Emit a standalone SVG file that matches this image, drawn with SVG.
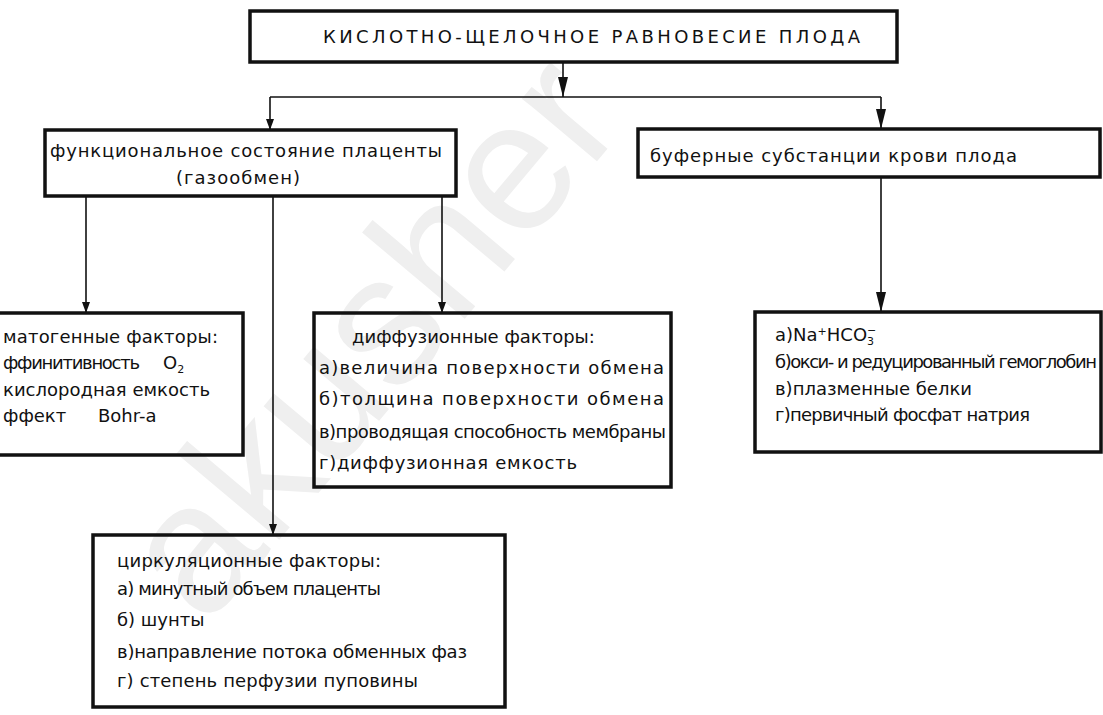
<svg xmlns="http://www.w3.org/2000/svg" width="1103" height="715" viewBox="0 0 1103 715">
  <defs>
    <style>
      .box { fill: none; stroke: #111; stroke-width: 3.5; }
      .wire { fill: none; stroke: #111; stroke-width: 1.6; }
      .t { font-family: "DejaVu Sans", "Liberation Sans", sans-serif; font-size: 18px; fill: #111; }
      .title { font-family: "DejaVu Sans", "Liberation Sans", sans-serif; font-size: 18px; fill: #111; }
      .mark { font-family: "Liberation Sans", Arial, sans-serif; font-size: 185px; fill: #efefef; }
      .sub { font-size: 11px; }
    </style>
    <marker id="headBig" markerUnits="userSpaceOnUse" markerWidth="24" markerHeight="12" refX="20" refY="5" orient="auto">
      <path d="M0,0 L20,5 L0,10 z" fill="#111"/>
    </marker>
    <marker id="headSmall" markerUnits="userSpaceOnUse" markerWidth="14" markerHeight="10" refX="11" refY="4" orient="auto">
      <path d="M0,0 L11,4 L0,8 z" fill="#111"/>
    </marker>
  </defs>

  <rect width="1103" height="715" fill="#fff"/>

  <!-- faint background watermark -->
  <text class="mark" x="380" y="393" text-anchor="middle" transform="rotate(-50 380 345)">akusher</text>

  <!-- connectors -->
  <g id="connectors">
    <line class="wire" x1="563" y1="62" x2="563" y2="97" marker-end="url(#headBig)"/>
    <line class="wire" x1="270" y1="97" x2="881" y2="97"/>
    <line class="wire" x1="270" y1="97" x2="270" y2="130" marker-end="url(#headSmall)"/>
    <line class="wire" x1="881" y1="97" x2="881" y2="129" marker-end="url(#headBig)"/>
    <line class="wire" x1="86" y1="196" x2="86" y2="313" marker-end="url(#headSmall)"/>
    <line class="wire" x1="442" y1="196" x2="442" y2="313" marker-end="url(#headSmall)"/>
    <line class="wire" x1="273" y1="196" x2="273" y2="535" marker-end="url(#headSmall)"/>
    <line class="wire" x1="881" y1="177" x2="881" y2="312" marker-end="url(#headBig)"/>
  </g>

  <!-- root: acid-base balance -->
  <g id="node-root">
    <rect class="box" x="250" y="11" width="647" height="51"/>
    <text class="title" x="323" y="43" textLength="537" lengthAdjust="spacing">КИСЛОТНО-ЩЕЛОЧНОЕ РАВНОВЕСИЕ ПЛОДА</text>
  </g>

  <!-- placenta function -->
  <g id="node-placenta">
    <rect class="box" x="45" y="130" width="411" height="66"/>
    <text class="t" x="50" y="157" textLength="392" lengthAdjust="spacing">функциональное состояние плаценты</text>
    <text class="t" x="176" y="184" textLength="124" lengthAdjust="spacing">(газообмен)</text>
  </g>

  <!-- fetal blood buffers -->
  <g id="node-buffers">
    <rect class="box" x="638" y="129" width="462" height="48"/>
    <text class="t" x="650" y="162" textLength="367" lengthAdjust="spacing">буферные субстанции крови плода</text>
  </g>

  <!-- hematogenic factors -->
  <g id="node-hematogenic">
    <rect class="box" x="-5" y="313" width="248" height="142"/>
    <text class="t" x="3" y="343" textLength="215" lengthAdjust="spacing">матогенные факторы:</text>
    <text class="t" x="3" y="369"><tspan textLength="137" lengthAdjust="spacing">ффинитивность</tspan><tspan x="163">O</tspan><tspan class="sub" dy="4">2</tspan></text>
    <text class="t" x="3" y="396" textLength="207" lengthAdjust="spacing">кислородная емкость</text>
    <text class="t" x="3" y="422">ффект<tspan x="98">Bohr-a</tspan></text>
  </g>

  <!-- diffusion factors -->
  <g id="node-diffusion">
    <rect class="box" x="314" y="313" width="357" height="174"/>
    <text class="t" x="352" y="343">диффузионные факторы:</text>
    <text class="t" x="319" y="374" textLength="345" lengthAdjust="spacing">а)величина поверхности обмена</text>
    <text class="t" x="319" y="405" textLength="345" lengthAdjust="spacing">б)толщина поверхности обмена</text>
    <text class="t" x="319" y="438" textLength="347" lengthAdjust="spacing">в)проводящая способность мембраны</text>
    <text class="t" x="319" y="469" textLength="258" lengthAdjust="spacing">г)диффузионная емкость</text>
  </g>

  <!-- buffer systems list -->
  <g id="node-buffer-list">
    <rect class="box" x="755" y="312" width="346" height="140"/>
    <text class="t" x="775" y="341">а)Na<tspan class="sub" dy="-6">+</tspan><tspan dy="6">HCO</tspan><tspan class="sub" dy="4">3</tspan><tspan class="sub" dx="-7" dy="-11">−</tspan></text>
    <text class="t" x="775" y="368" textLength="322" lengthAdjust="spacing">б)окси- и редуцированный гемоглобин</text>
    <text class="t" x="775" y="395">в)плазменные белки</text>
    <text class="t" x="775" y="421" textLength="255" lengthAdjust="spacing">г)первичный фосфат натрия</text>
  </g>

  <!-- circulatory factors -->
  <g id="node-circulation">
    <rect class="box" x="93" y="535" width="412" height="172"/>
    <text class="t" x="117" y="567" textLength="264" lengthAdjust="spacing">циркуляционные факторы:</text>
    <text class="t" x="117" y="595" textLength="264" lengthAdjust="spacing">а) минутный объем плаценты</text>
    <text class="t" x="117" y="626">б) шунты</text>
    <text class="t" x="117" y="658" textLength="350" lengthAdjust="spacing">в)направление потока обменных фаз</text>
    <text class="t" x="117" y="687" textLength="301" lengthAdjust="spacing">г) степень перфузии пуповины</text>
  </g>
</svg>
